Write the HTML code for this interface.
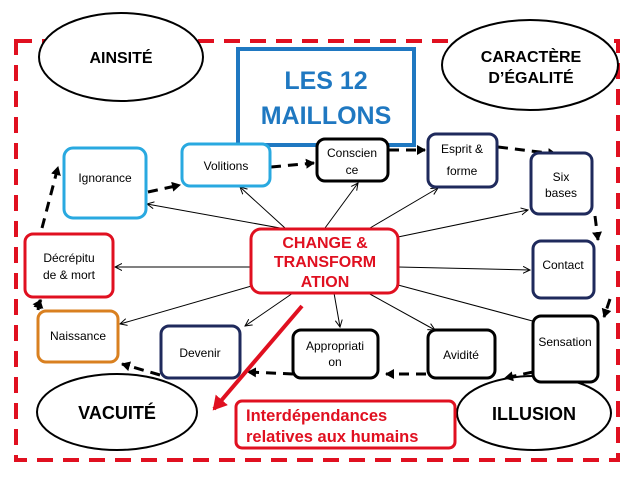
<!DOCTYPE html>
<html><head><meta charset="utf-8"><style>body{margin:0;background:#fff}svg{display:block;font-family:"Liberation Sans",sans-serif}</style></head><body>
<svg width="640" height="480" viewBox="0 0 640 480">
<defs>
<marker id="a" markerWidth="8" markerHeight="8" refX="7" refY="4" orient="auto" markerUnits="userSpaceOnUse"><path d="M0,0.5 L7,4 L0,7.5" fill="none" stroke="#000" stroke-width="1"/></marker>
<marker id="b" markerWidth="10" markerHeight="10" refX="8" refY="5" orient="auto" markerUnits="userSpaceOnUse"><path d="M0,0 L9,5 L0,10 Z" fill="#000"/></marker>
<marker id="r" markerWidth="16" markerHeight="16" refX="12" refY="8" orient="auto" markerUnits="userSpaceOnUse"><path d="M0,0 L14,8 L0,16 Z" fill="#e01020"/></marker>
</defs>
<rect x="16" y="41" width="602" height="419" fill="none" stroke="#e01020" stroke-width="4" stroke-dasharray="16,10"/>
<g fill="#fff" stroke="#000" stroke-width="2">
<ellipse cx="121" cy="57" rx="82" ry="44"/>
<ellipse cx="530" cy="65" rx="88" ry="45"/>
<ellipse cx="117" cy="412" rx="80" ry="38"/>
<ellipse cx="534" cy="413" rx="77" ry="37"/>
</g>
<g font-weight="bold" font-size="16" text-anchor="middle" fill="#000">
<text x="121" y="63">AINSITÉ</text>
<text x="531" y="62">CARACTÈRE</text>
<text x="531" y="83">D’ÉGALITÉ</text>
<text x="117" y="419" font-size="18">VACUITÉ</text>
<text x="534" y="420" font-size="18">ILLUSION</text>
</g>
<rect x="238" y="49" width="176" height="96" fill="#fff" stroke="#1f78c1" stroke-width="4"/>
<g font-weight="bold" font-size="25" text-anchor="middle" fill="#1f78c1"><text x="326" y="89">LES 12</text><text x="326" y="124">MAILLONS</text></g>
<g stroke="#000" stroke-width="1" marker-end="url(#a)">
<line x1="280" y1="228" x2="147" y2="204"/>
<line x1="285" y1="228" x2="240" y2="187"/>
<line x1="325" y1="228" x2="358" y2="183"/>
<line x1="370" y1="228" x2="438" y2="188"/>
<line x1="398" y1="237" x2="528" y2="210"/>
<line x1="250" y1="267" x2="115" y2="267"/>
<line x1="398" y1="267" x2="530" y2="270"/>
<line x1="398" y1="285" x2="540" y2="323"/>
<line x1="255" y1="285" x2="120" y2="324"/>
<line x1="293" y1="293" x2="245" y2="326"/>
<line x1="334" y1="293" x2="340" y2="327"/>
<line x1="368" y1="293" x2="435" y2="330"/>
</g>
<g stroke="#000" stroke-width="3" stroke-dasharray="10,7" fill="none" marker-end="url(#b)">
<line x1="148" y1="192" x2="180" y2="185"/>
<line x1="271" y1="167" x2="314" y2="163"/>
<line x1="389" y1="150" x2="425" y2="150"/>
<line x1="498" y1="147" x2="556" y2="154"/>
<line x1="595" y1="216" x2="598" y2="240"/>
<line x1="610" y1="299" x2="604" y2="317"/>
<line x1="533" y1="372" x2="505" y2="378"/>
<line x1="426" y1="374" x2="386" y2="374"/>
<line x1="293" y1="374" x2="248" y2="372"/>
<line x1="160" y1="375" x2="122" y2="364"/>
<line x1="38" y1="305" x2="41" y2="300"/>
<line x1="42" y1="228" x2="58" y2="167"/>
</g>
<path d="M38,310 L40,300" stroke="#000" stroke-width="3" marker-end="url(#b)"/>
<g fill="#fff" stroke-width="3">
<rect x="64" y="148" width="82" height="70" rx="9" stroke="#29a9e0"/>
<rect x="182" y="144" width="88" height="42" rx="8" stroke="#29a9e0"/>
<rect x="317" y="139" width="71" height="42" rx="8" stroke="#000"/>
<rect x="428" y="134" width="69" height="53" rx="8" stroke="#1f2a5c"/>
<rect x="531" y="153" width="61" height="61" rx="8" stroke="#1f2a5c"/>
<rect x="533" y="241" width="61" height="57" rx="8" stroke="#1f2a5c"/>
<rect x="533" y="316" width="65" height="66" rx="8" stroke="#000"/>
<rect x="428" y="330" width="67" height="48" rx="8" stroke="#000"/>
<rect x="293" y="330" width="85" height="48" rx="8" stroke="#000"/>
<rect x="161" y="326" width="79" height="52" rx="8" stroke="#1f2a5c"/>
<rect x="38" y="311" width="80" height="51" rx="8" stroke="#d98020"/>
<rect x="25" y="234" width="88" height="63" rx="8" stroke="#e01020"/>
<rect x="251" y="229" width="147" height="64" rx="10" stroke="#e01020"/>
<rect x="236" y="401" width="219" height="47" rx="6" stroke="#e01020"/>
</g>
<g font-size="12" text-anchor="middle" fill="#000">
<text x="105" y="182">Ignorance</text>
<text x="226" y="170">Volitions</text>
<text x="352" y="157">Conscien</text><text x="352" y="174">ce</text>
<text x="462" y="153">Esprit &amp;</text><text x="462" y="175">forme</text>
<text x="561" y="181">Six</text><text x="561" y="197">bases</text>
<text x="563" y="269">Contact</text>
<text x="565" y="346">Sensation</text>
<text x="461" y="359">Avidité</text>
<text x="335" y="350">Appropriati</text><text x="335" y="366">on</text>
<text x="200" y="357">Devenir</text>
<text x="78" y="340">Naissance</text>
<text x="69" y="262">Décrépitu</text><text x="69" y="279">de &amp; mort</text>
</g>
<g font-size="16" font-weight="bold" text-anchor="middle" fill="#e01020">
<text x="325" y="248">CHANGE &amp;</text><text x="325" y="267">TRANSFORM</text><text x="325" y="287">ATION</text>
</g>
<g font-size="16.5" font-weight="bold" fill="#e01020">
<text x="246" y="421">Interdépendances</text><text x="246" y="442">relatives aux humains</text>
</g>
<line x1="302" y1="306" x2="214" y2="409" stroke="#e01020" stroke-width="4" marker-end="url(#r)"/>
</svg>
</body></html>
